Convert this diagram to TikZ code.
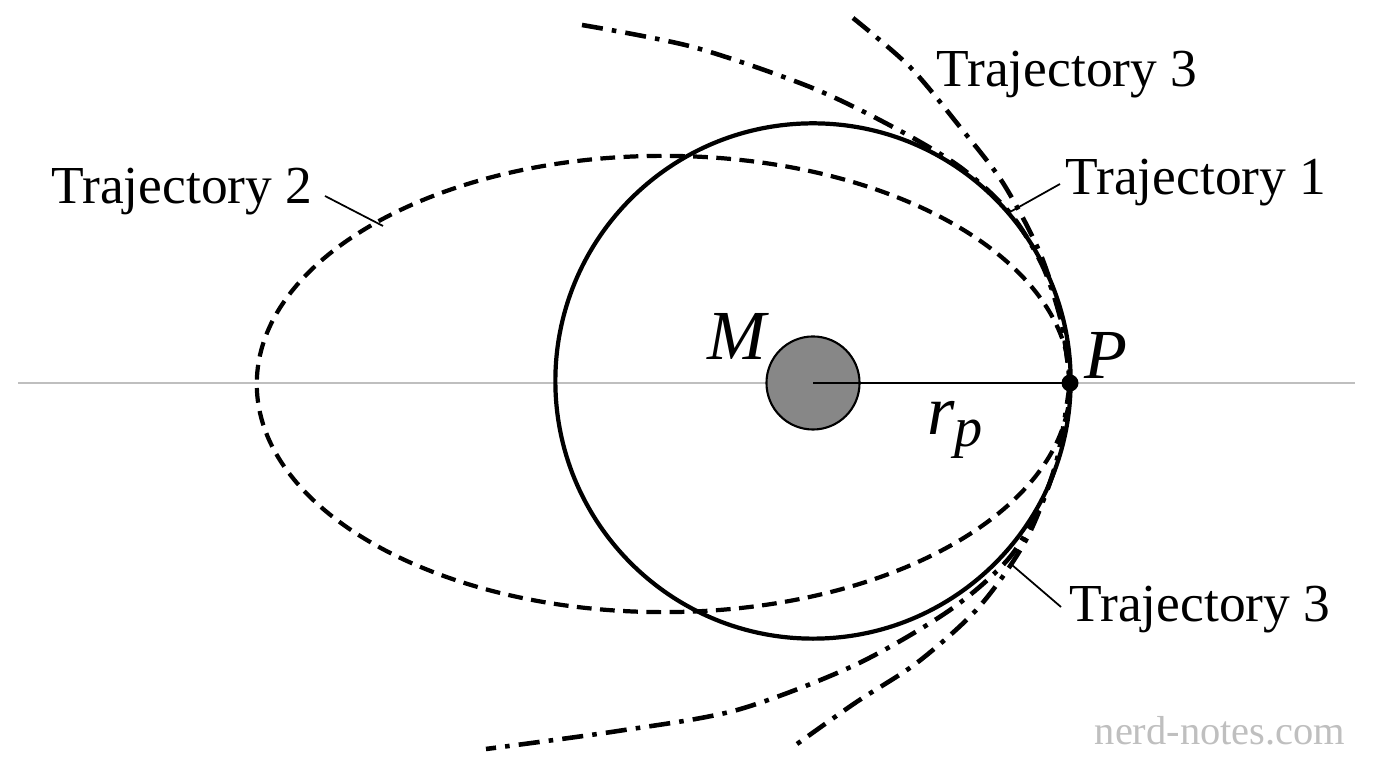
\documentclass[tikz,border=0pt]{standalone}
\usepackage{fontspec}
\setmainfont{Liberation Serif}
\begin{document}
\begin{tikzpicture}[x=0.01cm,y=-0.01cm,
  orbit/.style={line width=1.2pt},
  dsh/.style={line width=1.2pt,dash pattern=on 4.2pt off 2.4pt},
  dd/.style={line width=1.3pt,dash pattern=on 6pt off 2.6pt on 1.3pt off 2.6pt},
  lead/.style={line width=0.5pt},
  lab/.style={font=\fontsize{15.2}{18}\selectfont,inner sep=1pt},
  sym/.style={font=\fontsize{20}{24}\selectfont\itshape,inner sep=1pt}]
\useasboundingbox (0,0) rectangle (1376,768);
\fill[white] (0,0) rectangle (1376,768);
\draw[black!25,line width=0.6pt] (18,383) -- (1355,383);
\coordinate (C) at (813,381);
\coordinate (E) at (663.5,384);
\draw[orbit] (C) circle [radius=2.575cm];
\draw[dsh] (E) ellipse [x radius=4.065cm, y radius=2.28cm];
% trajectory 3 curves
\draw[dd] plot[smooth] coordinates {(582,25) (693,47) (810,87) (893,127) (960,167) (1010,213) (1043,267) (1062,325) (1070,383)};
\draw[dd] plot[smooth] coordinates {(853,18) (910,67) (960,127) (1003,183) (1040,253) (1061,320) (1070,383)};
\draw[dd] plot[smooth] coordinates {(1070,383) (1064,435) (1045,495) (1010,557) (950,610) (855,665) (737,710) (618,731) (486,749)};
\draw[dd] plot[smooth] coordinates {(1070,383) (1056,463) (1026,540) (979,607) (918,662) (855,703) (790,749)};
% planet and P
\node[circle,draw,fill=black!47,minimum size=0.93cm,inner sep=0pt,line width=0.6pt] (M) at (813,383) {};
\node[circle,fill=black,minimum size=0.17cm,inner sep=0pt] (P) at (1070,383) {};
\draw[line width=0.8pt] (M.center) -- (P.center);
\node[sym] (Ml) at (737,336) {M};
\node[sym] (Pl) at (1106,355) {P};
\node[sym] (rp) at (955,430) {r\raisebox{-0.35ex}{\fontsize{16}{18}\selectfont p}};
% labels
\node[lab] (t2) at (182,192) {Trajectory 2};
\coordinate (t2a) at (325,196);
\coordinate (t2b) at (383,226);
\draw[lead] (t2a) -- (t2b);
\node[lab] (t1) at (1196,183) {Trajectory 1};
\coordinate (t1a) at (1060,184);
\coordinate (t1b) at (1010,212);
\draw[lead] (t1a) -- (t1b);
\node[lab] (t3u) at (1067,75) {Trajectory 3};
\node[lab] (t3l) at (1200,610) {Trajectory 3};
\coordinate (t3a) at (1061,607);
\coordinate (t3b) at (1012,565);
\draw[lead] (t3a) -- (t3b);
\node[font=\fontsize{11.5}{14}\selectfont,text=black!25] (wm) at (1220,731) {nerd-notes.com};
\end{tikzpicture}
\end{document}
